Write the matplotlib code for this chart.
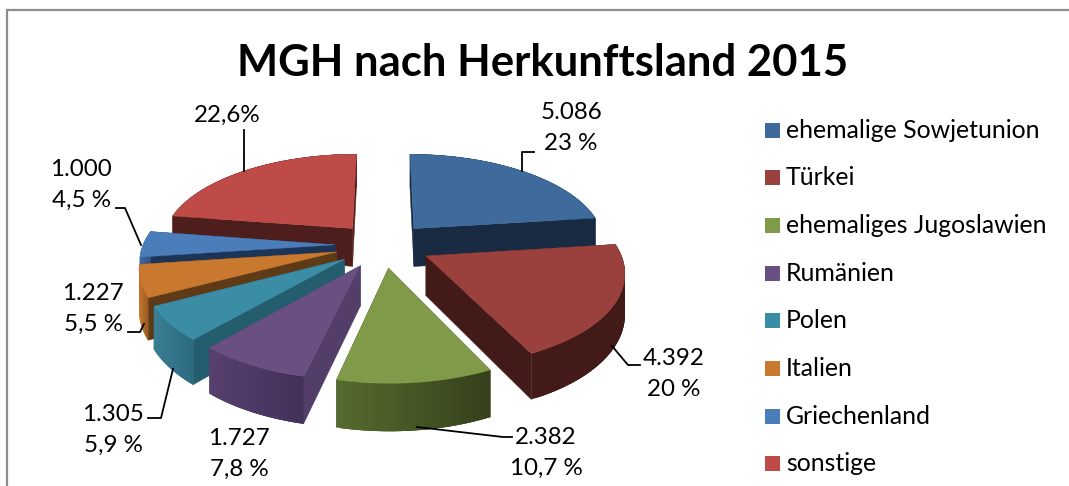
import numpy as np
import matplotlib
matplotlib.use("Agg")
import matplotlib.pyplot as plt
from matplotlib.patches import Polygon, Rectangle
from matplotlib.colors import to_rgb

plt.rcParams['font.family'] = ['Lato', 'DejaVu Sans']

# data
categories = ["ehemalige Sowjetunion", "Türkei", "ehemaliges Jugoslawien", "Rumänien",
              "Polen", "Italien", "Griechenland", "sonstige"]
values = [5086, 4392, 2382, 1727, 1305, 1227, 1000, 5000]
value_labels = ["5.086\n23 %", "4.392\n20 %", "2.382\n10,7 %", "1.727\n7,8 %",
                "1.305\n5,9 %", "1.227\n5,5 %", "1.000\n4,5 %", "22,6%"]

# colours: top, legend uses the same
top_colors = ["#3E6A9C", "#9A413E", "#7F9A48", "#6A4F82", "#3B8CA5", "#C8782F", "#4B7DBB", "#BE4B48"]
edge_colors = ["#182B42", "#421A17", "#36411B", "#533E6A", "#245E6E", "#5F3A17", "#1C3557", "#4E1E1C"]
rim_left = ["#182B42", "#421A17", "#556B2E", "#57406F", "#3A7F95", "#C8782F", "#3F6BA3", "#4E1E1C"]
rim_right = ["#182B42", "#421A17", "#36411B", "#43315A", "#2C6A80", "#9A5A20", "#2F5482", "#4E1E1C"]

# fake 3d projection, in pixels
cx, cy = 383, 245
rad_x, rad_y = 192, 90
persp = 0.15
explode = 0.25
height = 39

# back slices first
draw_order = [7, 0, 6, 5, 4, 3, 1, 2]

# leader lines and label centres
label_pos = [(571, 128), (674, 374), (546, 453), (239, 454), (113, 430), (93, 309), (81, 185), (227, 115)]
leaders = [
    [(522, 171), (522, 152), (534, 152)],
    [(612, 346), (628, 365), (640, 365)],
    [(417, 427), (503, 437), (512, 437)],
    None,
    [(148, 418), (161, 418), (173, 369)],
    [(128, 332), (140, 332), (144, 324)],
    [(116, 208), (125, 208), (141, 245)],
    [(244, 130), (244, 171)],
]


def project(u, d, drop=0.0):
    s = 1 / (1 + persp * d)
    return np.column_stack([cx + rad_x * u * s, cy - rad_y * d * s + height * drop * s])


fig = plt.figure(figsize=(10.69, 4.86), dpi=100)
ax = fig.add_axes([0, 0, 1, 1])
ax.set_xlim(0, 1069)
ax.set_ylim(486, 0)
ax.axis('off')

# chart frame, only top and left are visible
ax.plot([6.5, 6.5, 1069], [486, 10.5, 10.5], color="#8C8C8C", lw=1.6, solid_joinstyle='miter')

ax.text(543, 63, "MGH nach Herkunftsland 2015", fontsize=31.4, fontweight='bold',
        ha='center', va='center', color="black")

angles = np.cumsum([0] + values) / sum(values) * 2 * np.pi

for i in draw_order:
    a0, a1 = angles[i], angles[i + 1]
    mid = (a0 + a1) / 2
    pu, pd = explode * np.sin(mid), explode * np.cos(mid)
    th = np.linspace(a0, a1, 60)
    u = pu + np.sin(th)
    d = pd + np.cos(th)
    top = project(u, d)
    bot = project(u, d, 1)
    apex = project(np.array([pu]), np.array([pd]))
    apex_bot = project(np.array([pu]), np.array([pd]), 1)

    # radial walls, the farther one first
    ends = [(top[0], bot[0]), (top[-1], bot[-1])]
    ends.sort(key=lambda e: e[0][1])
    for t, b in ends:
        ax.add_patch(Polygon([apex[0], t, b, apex_bot[0]], closed=True,
                             fc=edge_colors[i], ec=edge_colors[i], lw=0.3))

    # outer wall in small overlapping strips for the gradient
    xs = top[:, 0]
    lo, hi = xs.min(), xs.max()
    c0, c1 = np.array(to_rgb(rim_left[i])), np.array(to_rgb(rim_right[i]))
    order = range(len(th) - 1) if xs[0] < xs[-1] else range(len(th) - 2, -1, -1)
    for k in order:
        f = (xs[k] - lo) / max(hi - lo, 1)
        col = c0 + (c1 - c0) * f
        k2 = min(k + 3, len(th) - 1) if xs[0] < xs[-1] else k + 1
        k1 = k if xs[0] < xs[-1] else max(k - 2, 0)
        ax.add_patch(Polygon(np.vstack([top[k1:k2 + 1], bot[k1:k2 + 1][::-1]]), closed=True,
                             fc=col, ec='none', lw=0))

    ax.add_patch(Polygon(np.vstack([apex, top]), closed=True, fc=top_colors[i],
                         ec=top_colors[i], lw=0.3))

for lab, (x, y), lead in zip(value_labels, label_pos, leaders):
    ax.text(x, y, lab, fontsize=17.4, ha='center', va='center', linespacing=1.55, color="black")
    if lead is not None:
        ax.plot([p[0] for p in lead], [p[1] for p in lead], color="black", lw=1.3)

# legend
for n, name in enumerate(categories):
    y = 130 + n * 47.7
    ax.add_patch(Rectangle((765, y - 7.5), 15, 15, fc=top_colors[n], ec='none'))
    ax.text(786, y, name, fontsize=17.9, ha='left', va='center', color="black")

fig.savefig("out.png", dpi=100)
